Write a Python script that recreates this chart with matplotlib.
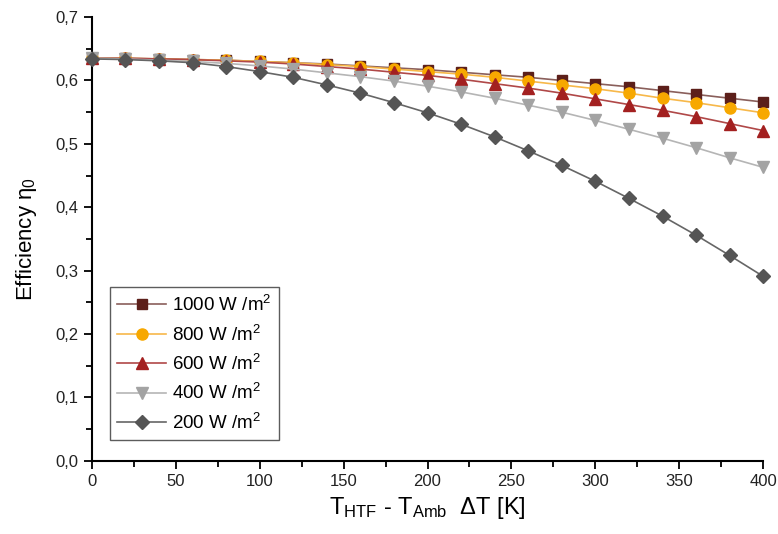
import matplotlib
matplotlib.use("Agg")
import matplotlib.pyplot as plt
from matplotlib.ticker import MultipleLocator, FuncFormatter
from matplotlib import font_manager

dT = [0, 20, 40, 60, 80, 100, 120, 140, 160, 180, 200, 220, 240, 260, 280, 300, 320, 340, 360, 380, 400]

eta_1000 = [0.635, 0.635, 0.634, 0.633, 0.632, 0.630, 0.628, 0.626, 0.623, 0.620, 0.617, 0.613, 0.609, 0.605, 0.600, 0.595, 0.590, 0.584, 0.578, 0.572, 0.566]
eta_800 = [0.635, 0.635, 0.634, 0.633, 0.632, 0.630, 0.628, 0.625, 0.622, 0.618, 0.614, 0.610, 0.605, 0.599, 0.593, 0.587, 0.580, 0.572, 0.565, 0.557, 0.549]
eta_600 = [0.635, 0.635, 0.634, 0.633, 0.631, 0.629, 0.626, 0.622, 0.618, 0.613, 0.608, 0.602, 0.595, 0.588, 0.580, 0.571, 0.562, 0.553, 0.543, 0.532, 0.521]
eta_400 = [0.635, 0.634, 0.632, 0.630, 0.627, 0.623, 0.618, 0.612, 0.606, 0.599, 0.591, 0.582, 0.572, 0.561, 0.550, 0.537, 0.523, 0.509, 0.494, 0.478, 0.463]
eta_200 = [0.634, 0.633, 0.631, 0.628, 0.622, 0.614, 0.605, 0.593, 0.580, 0.565, 0.549, 0.531, 0.511, 0.489, 0.466, 0.441, 0.414, 0.386, 0.356, 0.324, 0.291]

labels = ["1000 W /m$^{2}$", "800 W /m$^{2}$", "600 W /m$^{2}$", "400 W /m$^{2}$", "200 W /m$^{2}$"]

avail = {f.name for f in font_manager.fontManager.ttflist}
narrow = "Liberation Sans Narrow" if "Liberation Sans Narrow" in avail else "Liberation Sans"
plt.rcParams['font.family'] = ['Liberation Sans', 'DejaVu Sans']
plt.rcParams['mathtext.fontset'] = 'custom'
plt.rcParams['mathtext.rm'] = 'Liberation Sans'
plt.rcParams['mathtext.it'] = 'Liberation Sans'

fig = plt.figure(figsize=(7.78, 5.34), dpi=100)
ax = fig.add_axes([0.118, 0.137, 0.863, 0.831])

series = [
    (eta_1000, 's', '#5c1f1a', '#8a5f5b', 7),
    (eta_800, 'o', '#f7a800', '#f7b84a', 8),
    (eta_600, '^', '#a32020', '#b04848', 8),
    (eta_400, 'v', '#a3a3a3', '#b5b5b5', 8),
    (eta_200, 'D', '#555555', '#666666', 7),
]
for (vals, m, mc, lc, ms), lab in zip(series, labels):
    ax.plot(dT, vals, color=lc, lw=1.2, marker=m, markersize=ms,
            markerfacecolor=mc, markeredgecolor=mc, label=lab, clip_on=False, zorder=3)

ax.set_xlim(0, 400)
ax.set_ylim(0, 0.7)
ax.xaxis.set_major_locator(MultipleLocator(50))
ax.xaxis.set_minor_locator(MultipleLocator(25))
ax.yaxis.set_major_locator(MultipleLocator(0.1))
ax.yaxis.set_minor_locator(MultipleLocator(0.05))
ax.yaxis.set_major_formatter(FuncFormatter(lambda v, p: f"{v:.1f}".replace('.', ',')))
ax.spines['top'].set_visible(False)
ax.spines['right'].set_visible(False)
ax.spines['left'].set_linewidth(1.5)
ax.spines['bottom'].set_linewidth(1.5)
ax.tick_params(which='major', direction='out', length=6, width=1.3, labelsize=12)
ax.tick_params(which='minor', direction='out', length=4, width=1.3)
for t in ax.get_xticklabels() + ax.get_yticklabels():
    t.set_fontfamily(narrow)
    t.set_color('#222222')

ax.set_xlabel(r"T$_{\mathrm{HTF}}$ - T$_{\mathrm{Amb}}$  ΔT [K]", fontsize=17, fontfamily=narrow, labelpad=4)
ax.set_ylabel(r"Efficiency η$_{\mathrm{0}}$", fontsize=16, labelpad=12)

leg = ax.legend(loc='lower left', bbox_to_anchor=(0.027, 0.046), fontsize=13.5,
                frameon=True, fancybox=False, edgecolor='#333333', borderpad=0.4,
                handlelength=2.6, handletextpad=0.3, labelspacing=0.5, borderaxespad=0)
leg.get_frame().set_linewidth(1.0)

fig.savefig("out.png", dpi=100)
